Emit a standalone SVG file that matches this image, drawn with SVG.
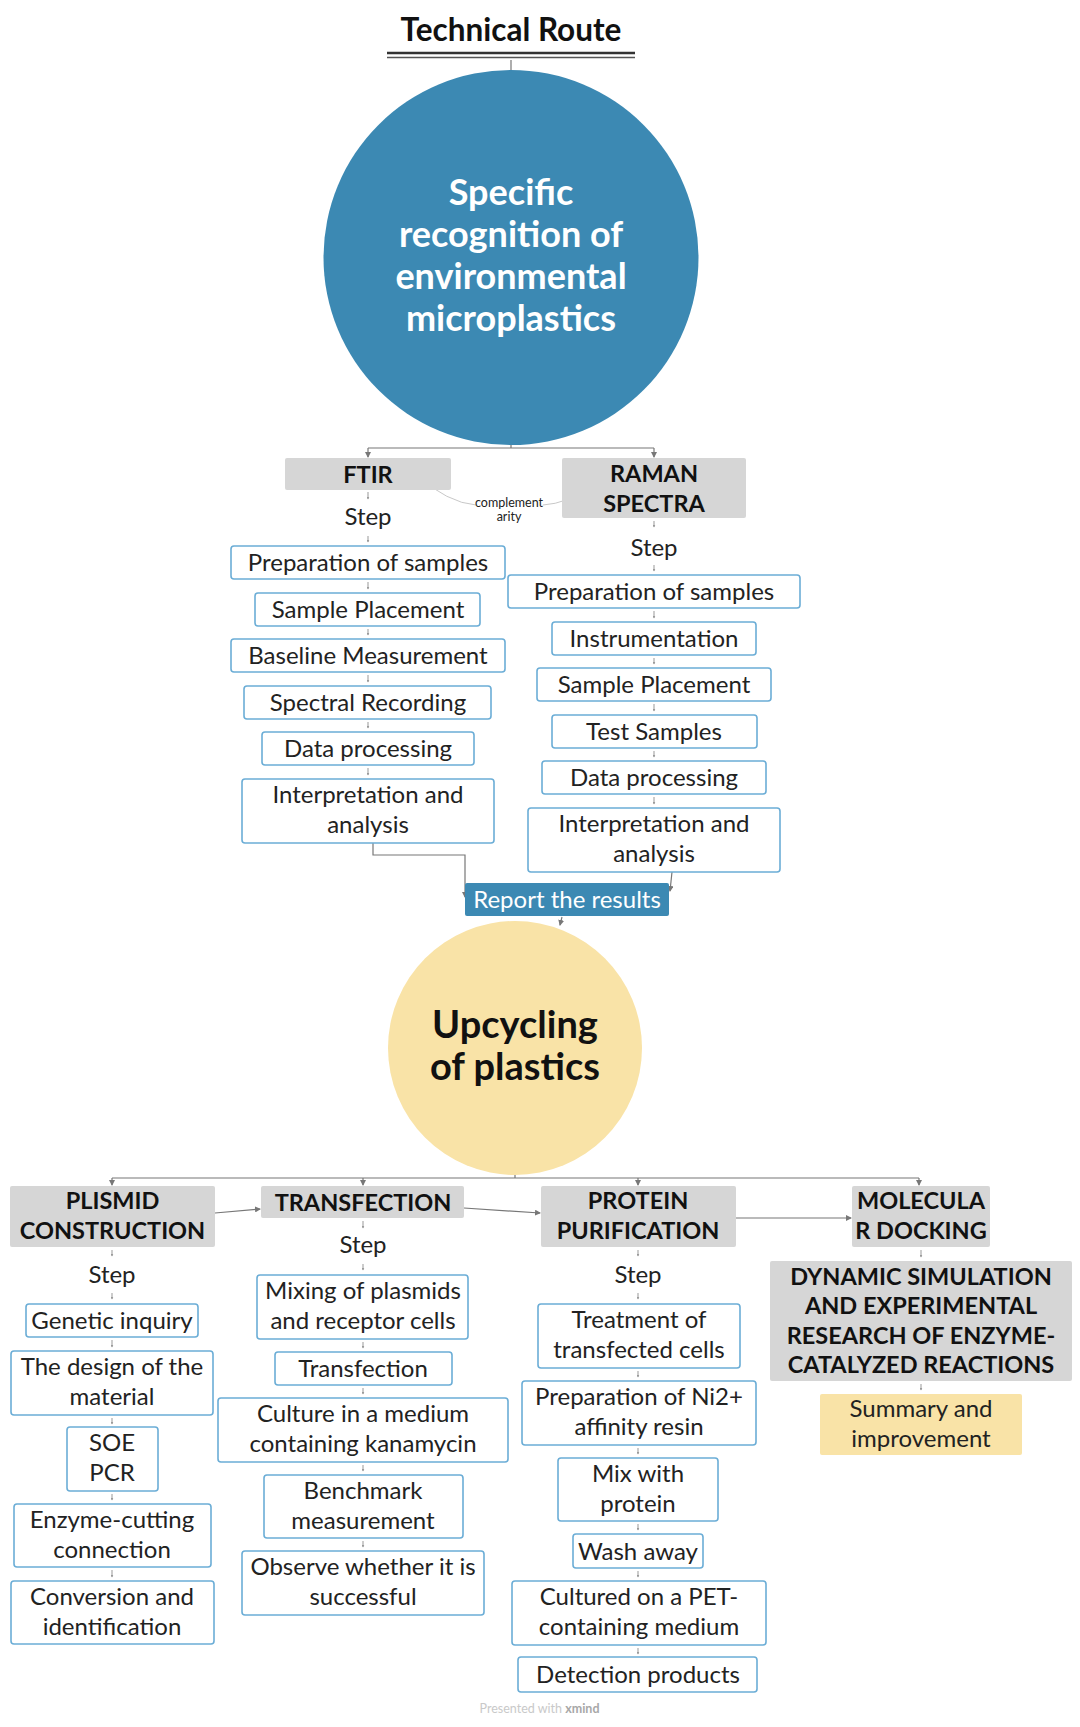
<svg xmlns="http://www.w3.org/2000/svg" width="1080" height="1727" viewBox="0 0 1080 1727">
<defs>
<style>
text{font-family:Lato,"Liberation Sans",sans-serif;text-anchor:middle;fill:#222}
.b{fill:#fff;stroke:#6badd6;stroke-width:1.6}
.g{fill:#d6d6d6}
.y{fill:#f9e3a7}
.t{font-size:24px}
.h{font-size:23.5px;font-weight:bold;fill:#111}
.c{fill:none;stroke:#777;stroke-width:1.2}
.k{fill:none;stroke:#999;stroke-width:1}
</style>
<marker id="a" viewBox="0 0 6 6" refX="5" refY="3" markerWidth="5" markerHeight="5" orient="auto"><path d="M0 0L6 3L0 6z" fill="#777"/></marker>
<marker id="s" viewBox="0 0 6 6" refX="5" refY="3" markerWidth="3" markerHeight="3" orient="auto"><path d="M0 0L6 3L0 6z" fill="#999"/></marker>
</defs>
<rect width="1080" height="1727" fill="#fff"/>

<g id="title">
<text x="511" y="40.5" style="font-size:31.5px;font-weight:bold;fill:#111">Technical Route</text>
<line x1="387" y1="53" x2="635" y2="53" stroke="#333" stroke-width="2.5"/>
<line x1="387" y1="57.5" x2="635" y2="57.5" stroke="#555" stroke-width="1.5"/>
</g>

<g id="connectors">
<path class="c" d="M511 60V70"/>
<path class="c" d="M511 444V448M368 448H654"/>
<path class="c" d="M368 448V457" marker-end="url(#a)"/>
<path class="c" d="M654 448V457" marker-end="url(#a)"/>
<path d="M415 474Q448 503 476 505M543 505Q556 504 566 500" fill="none" stroke="#c8c8c8" stroke-width="1"/>
<path class="c" d="M373 843V855H465V897" marker-end="url(#a)"/>
<path class="c" d="M672 872L670 891" marker-end="url(#a)"/>
<path class="c" d="M562 917L560 925" marker-end="url(#a)"/>
<path class="c" d="M515 1175V1178M112 1178H919"/>
<path class="c" d="M112 1178V1185" marker-end="url(#a)"/>
<path class="c" d="M363 1178V1185" marker-end="url(#a)"/>
<path class="c" d="M638 1178V1185" marker-end="url(#a)"/>
<path class="c" d="M919 1178V1185" marker-end="url(#a)"/>
<path class="c" d="M215 1213L260 1209" marker-end="url(#a)"/>
<path class="c" d="M464 1208L540 1213" marker-end="url(#a)"/>
<path class="c" d="M736 1218L851 1218" marker-end="url(#a)"/>
<g marker-end="url(#s)">
<path class="k" d="M368 492V499"/><path class="k" d="M368 536V542"/><path class="k" d="M368 582V589"/><path class="k" d="M368 629V635"/><path class="k" d="M368 675V682"/><path class="k" d="M368 722V728"/><path class="k" d="M368 768V775"/>
<path class="k" d="M654 521V527"/><path class="k" d="M654 565V571"/><path class="k" d="M654 611V618"/><path class="k" d="M654 658V664"/><path class="k" d="M654 704V711"/><path class="k" d="M654 751V757"/><path class="k" d="M654 797V804"/>
<path class="k" d="M112 1250V1256"/><path class="k" d="M112 1293V1299"/><path class="k" d="M112 1340V1347"/><path class="k" d="M112 1418V1424"/><path class="k" d="M112 1494V1500"/><path class="k" d="M112 1570V1577"/>
<path class="k" d="M363 1221V1228"/><path class="k" d="M363 1264V1270"/><path class="k" d="M363 1342V1348"/><path class="k" d="M363 1388V1394"/><path class="k" d="M363 1465V1471"/><path class="k" d="M363 1541V1547"/>
<path class="k" d="M638 1250V1256"/><path class="k" d="M638 1293V1299"/><path class="k" d="M638 1371V1377"/><path class="k" d="M638 1448V1454"/><path class="k" d="M638 1524V1530"/><path class="k" d="M638 1571V1577"/><path class="k" d="M638 1648V1654"/>
<path class="k" d="M921 1250V1257"/><path class="k" d="M921 1384V1390"/>
</g>
</g>

<g id="root">
<circle cx="511" cy="257.5" r="187.5" fill="#3c89b3"/>
<text x="511" y="205" style="font-size:36px;font-weight:bold;fill:#fff">Specific</text>
<text x="511" y="247" style="font-size:36px;font-weight:bold;fill:#fff">recognition of</text>
<text x="511" y="289" style="font-size:36px;font-weight:bold;fill:#fff">environmental</text>
<text x="511" y="331" style="font-size:36px;font-weight:bold;fill:#fff">microplastics</text>
</g>

<g id="ftir"><rect class="g" x="285" y="458" width="166" height="32" rx="2"/><text class="h" x="368" y="482.5">FTIR</text></g>
<g id="complementarity"><text x="509" y="507" style="font-size:12.5px">complement</text><text x="509" y="521" style="font-size:12.5px">arity</text></g>
<g id="ftir-step"><text class="t" x="368" y="524.5">Step</text></g>
<g id="ftir-1"><rect class="b" x="231" y="546" width="274" height="33" rx="3"/><text class="t" x="368" y="571">Preparation of samples</text></g>
<g id="ftir-2"><rect class="b" x="255" y="593" width="225" height="33" rx="3"/><text class="t" x="368" y="618">Sample Placement</text></g>
<g id="ftir-3"><rect class="b" x="231" y="639" width="274" height="33" rx="3"/><text class="t" x="368" y="664">Baseline Measurement</text></g>
<g id="ftir-4"><rect class="b" x="244" y="686" width="247" height="33" rx="3"/><text class="t" x="368" y="711">Spectral Recording</text></g>
<g id="ftir-5"><rect class="b" x="262" y="732" width="212" height="33" rx="3"/><text class="t" x="368" y="757">Data processing</text></g>
<g id="ftir-6"><rect class="b" x="242" y="779" width="252" height="64" rx="3"/><text class="t" x="368" y="803">Interpretation and</text><text class="t" x="368" y="833">analysis</text></g>

<g id="raman"><rect class="g" x="562" y="458" width="184" height="60" rx="2"/><text class="h" x="654" y="481.5">RAMAN</text><text class="h" x="654" y="511.5">SPECTRA</text></g>
<g id="raman-step"><text class="t" x="654" y="555.5">Step</text></g>
<g id="raman-1"><rect class="b" x="508" y="575" width="292" height="33" rx="3"/><text class="t" x="654" y="600">Preparation of samples</text></g>
<g id="raman-2"><rect class="b" x="552" y="622" width="204" height="33" rx="3"/><text class="t" x="654" y="647">Instrumentation</text></g>
<g id="raman-3"><rect class="b" x="537" y="668" width="234" height="33" rx="3"/><text class="t" x="654" y="693">Sample Placement</text></g>
<g id="raman-4"><rect class="b" x="552" y="715" width="205" height="33" rx="3"/><text class="t" x="654" y="740">Test Samples</text></g>
<g id="raman-5"><rect class="b" x="542" y="761" width="224" height="33" rx="3"/><text class="t" x="654" y="786">Data processing</text></g>
<g id="raman-6"><rect class="b" x="528" y="808" width="252" height="64" rx="3"/><text class="t" x="654" y="832">Interpretation and</text><text class="t" x="654" y="862">analysis</text></g>

<g id="report"><rect x="465" y="883" width="204" height="33" rx="2" fill="#3c89b3"/><text class="t" x="567" y="908" style="fill:#fff">Report the results</text></g>

<g id="upcycling">
<circle cx="515" cy="1048" r="127" fill="#f9e3a7"/>
<text x="515" y="1038" style="font-size:38px;font-weight:bold;fill:#111">Upcycling</text>
<text x="515" y="1080" style="font-size:38px;font-weight:bold;fill:#111">of plastics</text>
</g>

<g id="plasmid"><rect class="g" x="10" y="1186" width="205" height="61" rx="2"/><text class="h" x="112.5" y="1208.5">PLISMID</text><text class="h" x="112.5" y="1238.5">CONSTRUCTION</text></g>
<g id="plasmid-step"><text class="t" x="112" y="1282.5">Step</text></g>
<g id="plasmid-1"><rect class="b" x="26" y="1304" width="172" height="33" rx="3"/><text class="t" x="112" y="1329">Genetic inquiry</text></g>
<g id="plasmid-2"><rect class="b" x="11" y="1351" width="202" height="64" rx="3"/><text class="t" x="112" y="1374.5">The design of the</text><text class="t" x="112" y="1404.5">material</text></g>
<g id="plasmid-3"><rect class="b" x="67" y="1427" width="91" height="64" rx="3"/><text class="t" x="112" y="1450.5">SOE</text><text class="t" x="112" y="1480.5">PCR</text></g>
<g id="plasmid-4"><rect class="b" x="14" y="1504" width="197" height="63" rx="3"/><text class="t" x="112" y="1527.5">Enzyme-cutting</text><text class="t" x="112" y="1557.5">connection</text></g>
<g id="plasmid-5"><rect class="b" x="11" y="1581" width="203" height="63" rx="3"/><text class="t" x="112" y="1604.5">Conversion and</text><text class="t" x="112" y="1634.5">identification</text></g>

<g id="transfection"><rect class="g" x="261" y="1186" width="203" height="32" rx="2"/><text class="h" x="363" y="1210.5">TRANSFECTION</text></g>
<g id="transfection-step"><text class="t" x="363" y="1252.5">Step</text></g>
<g id="transfection-1"><rect class="b" x="257" y="1275" width="211" height="64" rx="3"/><text class="t" x="363" y="1298.5">Mixing of plasmids</text><text class="t" x="363" y="1328.5">and receptor cells</text></g>
<g id="transfection-2"><rect class="b" x="275" y="1352" width="177" height="33" rx="3"/><text class="t" x="363" y="1377">Transfection</text></g>
<g id="transfection-3"><rect class="b" x="218" y="1398" width="290" height="64" rx="3"/><text class="t" x="363" y="1421.5">Culture in a medium</text><text class="t" x="363" y="1451.5">containing kanamycin</text></g>
<g id="transfection-4"><rect class="b" x="264" y="1475" width="199" height="63" rx="3"/><text class="t" x="363" y="1498.5">Benchmark</text><text class="t" x="363" y="1528.5">measurement</text></g>
<g id="transfection-5"><rect class="b" x="242" y="1551" width="242" height="64" rx="3"/><text class="t" x="363" y="1574.5">Observe whether it is</text><text class="t" x="363" y="1604.5">successful</text></g>

<g id="protein"><rect class="g" x="541" y="1186" width="195" height="61" rx="2"/><text class="h" x="638" y="1208.5">PROTEIN</text><text class="h" x="638" y="1238.5">PURIFICATION</text></g>
<g id="protein-step"><text class="t" x="638" y="1282.5">Step</text></g>
<g id="protein-1"><rect class="b" x="538" y="1304" width="202" height="64" rx="3"/><text class="t" x="639" y="1327.5">Treatment of</text><text class="t" x="639" y="1357.5">transfected cells</text></g>
<g id="protein-2"><rect class="b" x="522" y="1381" width="234" height="64" rx="3"/><text class="t" x="639" y="1404.5">Preparation of Ni2+</text><text class="t" x="639" y="1434.5">affinity resin</text></g>
<g id="protein-3"><rect class="b" x="558" y="1458" width="160" height="63" rx="3"/><text class="t" x="638" y="1481.5">Mix with</text><text class="t" x="638" y="1511.5">protein</text></g>
<g id="protein-4"><rect class="b" x="573" y="1534" width="130" height="34" rx="3"/><text class="t" x="638" y="1559.5">Wash away</text></g>
<g id="protein-5"><rect class="b" x="512" y="1581" width="254" height="64" rx="3"/><text class="t" x="639" y="1604.5">Cultured on a PET-</text><text class="t" x="639" y="1634.5">containing medium</text></g>
<g id="protein-6"><rect class="b" x="518" y="1657" width="239" height="35" rx="3"/><text class="t" x="638" y="1683">Detection products</text></g>

<g id="docking"><rect class="g" x="852" y="1186" width="138" height="61" rx="2"/><text class="h" x="921" y="1208.5">MOLECULA</text><text class="h" x="921" y="1238.5">R DOCKING</text></g>
<g id="dynamic"><rect class="g" x="770" y="1261" width="302" height="120" rx="2"/><text class="h" x="921" y="1284.5">DYNAMIC SIMULATION</text><text class="h" x="921" y="1314">AND EXPERIMENTAL</text><text class="h" x="921" y="1343.5">RESEARCH OF ENZYME-</text><text class="h" x="921" y="1373">CATALYZED REACTIONS</text></g>
<g id="summary"><rect class="y" x="820" y="1394" width="202" height="61" rx="2"/><text class="t" x="921" y="1416.5">Summary and</text><text class="t" x="921" y="1446.5">improvement</text></g>

<text x="539.5" y="1713" style="font-size:12.5px;fill:#c9c9c9">Presented with <tspan style="font-weight:bold;fill:#a8a8a8">xmind</tspan></text>
</svg>
